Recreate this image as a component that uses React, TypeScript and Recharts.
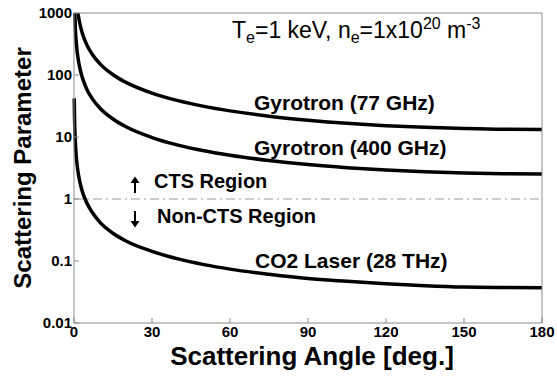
import { LineChart, Line, XAxis, YAxis, ReferenceLine } from "recharts";

// scattering angle [deg] and scattering parameter
const angles77 = [1.5, 2, 3, 4, 5, 7, 10, 15, 20, 30, 40, 50, 60, 75, 90, 105, 120, 135, 150, 165, 180];
const alpha77 = [1000, 756, 504, 378, 303, 216, 151, 101, 76, 51, 38.6, 31.2, 26.4, 21.7, 18.7, 16.6, 15.2, 14.3, 13.7, 13.3, 13.2];

const angles400 = [0.3, 0.5, 1, 1.5, 2, 3, 4, 5, 7, 10, 15, 20, 30, 40, 50, 60, 75, 90, 105, 120, 135, 150, 165, 180];
const alpha400 = [1000, 582, 291, 194, 146, 97, 73, 58, 41.6, 29.1, 19.5, 14.6, 9.8, 7.4, 6.0, 5.08, 4.18, 3.59, 3.2, 2.93, 2.75, 2.63, 2.56, 2.54];

const anglesCO2 = [0.1, 0.2, 0.3, 0.5, 0.75, 1, 1.5, 2, 3, 4, 5, 7, 10, 15, 20, 30, 40, 50, 60, 75, 90, 105, 120, 135, 150, 165, 180];
const alphaCO2 = [42, 21, 14.1, 8.5, 5.65, 4.24, 2.83, 2.12, 1.41, 1.06, 0.85, 0.61, 0.42, 0.28, 0.21, 0.143, 0.108, 0.0875, 0.074, 0.061, 0.052, 0.047, 0.043, 0.04, 0.038, 0.0373, 0.037];

const xTicks = [0, 30, 60, 90, 120, 150, 180];
const yTicks = [0.01, 0.1, 1, 10, 100, 1000];

const toPoints = (xs: number[], ys: number[]) => xs.map((x, i) => ({ x, y: ys[i] }));

const FONT = "Arial, 'Liberation Sans', sans-serif";
const AXIS = "#8a8a8a";

function Arrow({ left, top, down }: { left: number; top: number; down?: boolean }) {
  // small annotation arrow next to the CTS / non-CTS labels
  return (
    <svg style={{ position: "absolute", left, top }} width={12} height={18}>
      <g transform={down ? "rotate(180 6 9)" : undefined}>
        <line x1={6} y1={5} x2={6} y2={17} stroke="#000" strokeWidth={2} />
        <path d="M1.5 7 L6 0.5 L10.5 7 Z" fill="#000" />
      </g>
    </svg>
  );
}

export default function App() {
  const d77 = toPoints(angles77, alpha77);
  const d400 = toPoints(angles400, alpha400);
  const dCO2 = toPoints(anglesCO2, alphaCO2);

  const tickStyle = { fill: "#000", fontSize: 15, fontWeight: 700, fontFamily: FONT };
  const label = { position: "absolute" as const, fontFamily: FONT, fontWeight: 700, fontSize: 21, color: "#000", whiteSpace: "nowrap" as const, lineHeight: 1 };
  const sub = { fontSize: 16, position: "relative" as const, top: 5 };
  const sup = { fontSize: 16, position: "relative" as const, top: -9 };

  return (
    <div style={{ position: "absolute", left: 0, top: 0, width: 557, height: 379, background: "#fff" }}>
      <LineChart width={557} height={379} margin={{ top: 12, right: 14, bottom: 0, left: 0 }}>
        <XAxis
          type="number"
          dataKey="x"
          domain={[0, 180]}
          ticks={xTicks}
          height={56}
          stroke={AXIS}
          tickSize={-5}
          tickMargin={8}
          tick={tickStyle}
          label={{ value: "Scattering Angle [deg.]", position: "insideBottom", offset: 14, dx: 4, style: { fill: "#000", fontSize: 26, fontWeight: 700, fontFamily: FONT } }}
        />
        <XAxis xAxisId="top" orientation="top" type="number" domain={[0, 180]} ticks={xTicks} height={1} stroke={AXIS} tickSize={-5} tick={false} />
        <YAxis
          type="number"
          scale="log"
          domain={[0.01, 1000]}
          ticks={yTicks}
          allowDataOverflow
          width={74}
          stroke={AXIS}
          tickSize={-5}
          tickMargin={7}
          tick={tickStyle}
          label={{ value: "Scattering Parameter", angle: -90, position: "insideLeft", offset: 22, style: { fill: "#000", fontSize: 24, fontWeight: 700, fontFamily: FONT, textAnchor: "middle" } }}
        />
        <YAxis yAxisId="right" orientation="right" type="number" scale="log" domain={[0.01, 1000]} ticks={yTicks} allowDataOverflow width={1} stroke={AXIS} tickSize={-5} tick={false} />
        <ReferenceLine y={1} stroke="#999" strokeWidth={1} strokeDasharray="9 4 2 4" />
        <Line data={d77} dataKey="y" type="monotone" stroke="#000" strokeWidth={3.5} dot={false} isAnimationActive={false} />
        <Line data={d400} dataKey="y" type="monotone" stroke="#000" strokeWidth={3.5} dot={false} isAnimationActive={false} />
        <Line data={dCO2} dataKey="y" type="monotone" stroke="#000" strokeWidth={3.5} dot={false} isAnimationActive={false} />
      </LineChart>

      <div style={{ position: "absolute", left: 232, top: 19, fontFamily: FONT, fontSize: 23, lineHeight: 1, color: "#000", whiteSpace: "nowrap" }}>
        T<span style={sub}>e</span>=1 keV, n<span style={sub}>e</span>=1x10<span style={sup}>20</span> m<span style={sup}>-3</span>
      </div>
      <div style={{ ...label, left: 254, top: 92 }}>Gyrotron (77 GHz)</div>
      <div style={{ ...label, left: 254, top: 137 }}>Gyrotron (400 GHz)</div>
      <Arrow left={129} top={176} />
      <div style={{ ...label, fontSize: 20, left: 154, top: 171 }}>CTS Region</div>
      <Arrow left={129} top={210} down />
      <div style={{ ...label, fontSize: 20, left: 157, top: 206 }}>Non-CTS Region</div>
      <div style={{ ...label, left: 255, top: 250 }}>CO2 Laser (28 THz)</div>
    </div>
  );
}
